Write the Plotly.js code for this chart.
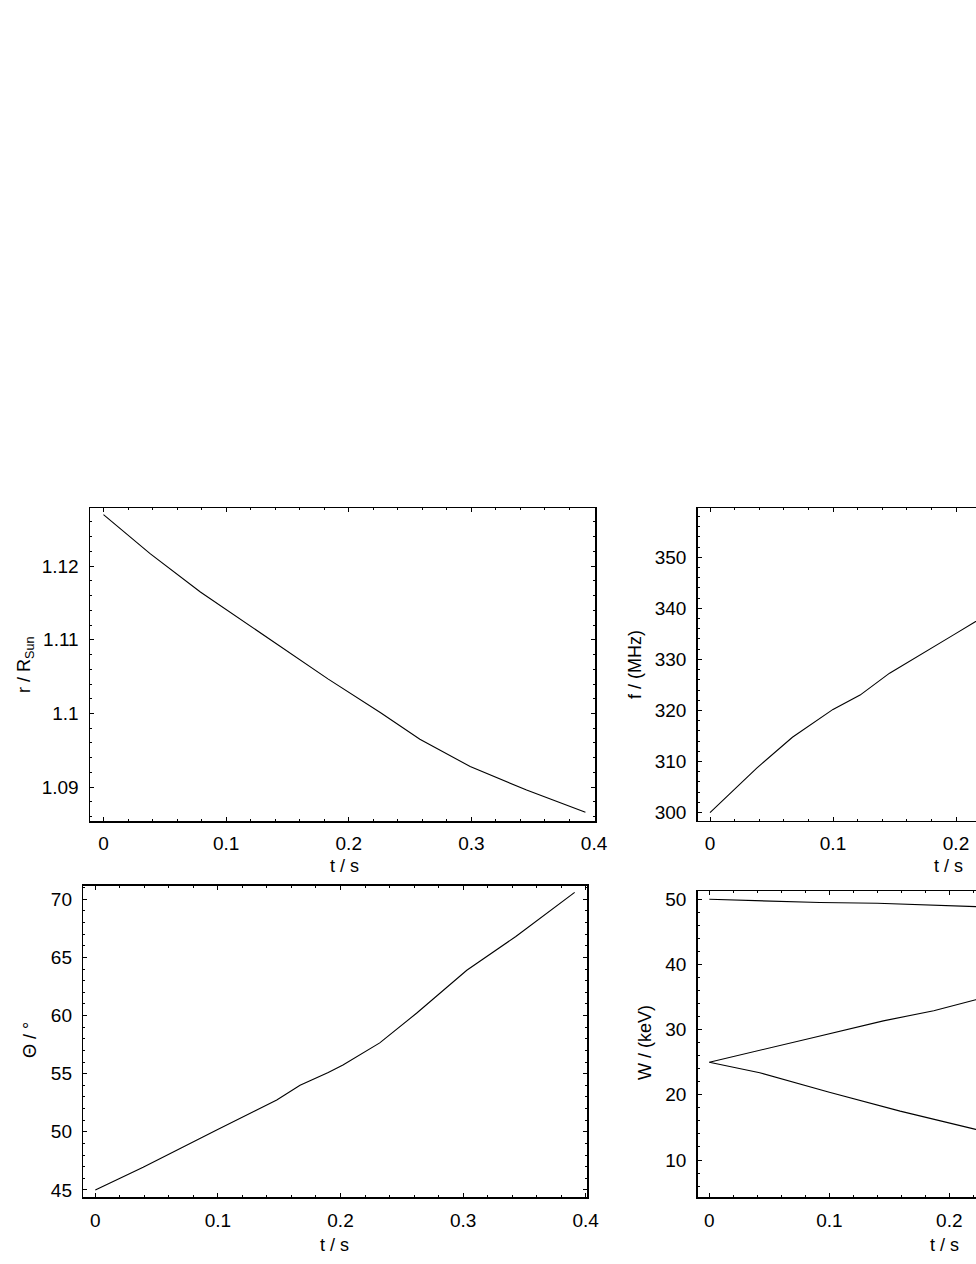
<!DOCTYPE html>
<html>
<head>
<meta charset="utf-8">
<script src="https://cdn.plot.ly/plotly-3.0.1.min.js"></script>
<style>
  html, body { margin: 0; padding: 0; background: #fff; overflow: hidden; }
  #chart { width: 1300px; height: 1264px; }
</style>
</head>
<body>
<div id="chart"></div>
<script>
// ---- data ----
const tR = [0, 0.038, 0.079, 0.122, 0.183, 0.226, 0.258, 0.299, 0.345, 0.393];
const rValues = [1.127, 1.1217, 1.1165, 1.1116, 1.1047, 1.1001, 1.0965, 1.0928, 1.0896, 1.0866];

const tF = [0, 0.038, 0.067, 0.1, 0.122, 0.146, 0.198, 0.216, 0.25, 0.3, 0.35, 0.393];
const fValues = [300, 308.7, 314.75, 320.2, 323, 327.3, 334.8, 337.4, 341.5, 348, 353.5, 358.3];

const tTheta = [0, 0.039, 0.099, 0.148, 0.167, 0.19, 0.202, 0.232, 0.262, 0.303, 0.343, 0.391];
const thetaValues = [45, 46.95, 50.16, 52.74, 54.0, 55.1, 55.75, 57.65, 60.2, 63.9, 66.8, 70.6];

const tWTop = [0, 0.042, 0.092, 0.14, 0.173, 0.222, 0.3, 0.393];
const wTop = [50, 49.8, 49.5, 49.4, 49.2, 48.9, 48.4, 47.8];
const tWMid = [0, 0.039, 0.087, 0.145, 0.187, 0.222, 0.3, 0.393];
const wMid = [25, 26.75, 28.8, 31.35, 32.9, 34.6, 38.2, 42.4];
const tWLow = [0, 0.042, 0.1, 0.159, 0.222, 0.3, 0.393];
const wLow = [25, 23.4, 20.4, 17.5, 14.7, 11.0, 5.8];

// tick labels
const tTicksFull = [0, 0.1, 0.2, 0.3, 0.4];
const tTicksVisible = [0, 0.1, 0.2];   // right-hand panels are cut by the picture edge

const xTitle = "t / s";
const yTitles = ["r / R<sub>Sun</sub>", "f / (MHz)", "Θ / °", "W / (keV)"];

// ---- layout helpers ----
const W = 1300, H = 1264;
const FONT = "'Liberation Sans', Arial, sans-serif";
const px = v => v / W;
const py = v => (H - v) / H;

function xAxis(anchor, left, right, range, tickvals) {
  return {
    anchor: anchor, domain: [px(left), px(right)], range: range,
    showline: true, linecolor: '#000', linewidth: 1.5, mirror: 'allticks',
    ticks: 'inside', ticklen: 4, tickwidth: 1, tickcolor: '#000',
    tickmode: 'array', tickvals: tickvals,
    minor: { tickmode: 'linear', tick0: 0, dtick: 0.02, ticks: 'inside', ticklen: 2, tickcolor: '#000', tickwidth: 1, showgrid: false },
    showgrid: false, zeroline: false,
    tickfont: { family: FONT, size: 19, color: '#000' },
    ticklabelstandoff: 5
  };
}
function yAxis(anchor, top, bottom, range, dtick, mdtick) {
  return {
    anchor: anchor, domain: [py(bottom), py(top)], range: range,
    showline: true, linecolor: '#000', linewidth: 1.5, mirror: 'allticks',
    ticks: 'inside', ticklen: 4, tickwidth: 1, tickcolor: '#000',
    dtick: dtick, tick0: 0,
    minor: { dtick: mdtick, ticks: 'inside', ticklen: 2, tickcolor: '#000', tickwidth: 1, showgrid: false },
    showgrid: false, zeroline: false,
    tickfont: { family: FONT, size: 19, color: '#000' },
    ticklabelstandoff: 6
  };
}

const line = { color: '#000', width: 1.1 };
const traces = [
  { x: tR, y: rValues, xaxis: 'x', yaxis: 'y', mode: 'lines', line: line },
  { x: tF, y: fValues, xaxis: 'x2', yaxis: 'y2', mode: 'lines', line: line },
  { x: tTheta, y: thetaValues, xaxis: 'x3', yaxis: 'y3', mode: 'lines', line: line },
  { x: tWTop, y: wTop, xaxis: 'x4', yaxis: 'y4', mode: 'lines', line: line },
  { x: tWMid, y: wMid, xaxis: 'x4', yaxis: 'y4', mode: 'lines', line: line },
  { x: tWLow, y: wLow, xaxis: 'x4', yaxis: 'y4', mode: 'lines', line: line }
];

function ann(text, x, y, angle) {
  return { text: text, x: px(x), y: py(y), xref: 'paper', yref: 'paper',
           showarrow: false, textangle: angle || 0, xanchor: 'center', yanchor: 'middle',
           font: { family: FONT, size: 18, color: '#000' } };
}

const layout = {
  width: W, height: H,
  margin: { l: 0, r: 0, t: 0, b: 0 },
  paper_bgcolor: '#fff', plot_bgcolor: '#fff',
  showlegend: false,
  xaxis:  xAxis('y', 90, 595, [-0.011, 0.4008], tTicksFull),
  yaxis:  yAxis('x', 508, 821, [1.0854, 1.1279], 0.01, 0.002),
  xaxis2: xAxis('y2', 697.7, 1203, [-0.01, 0.4008], tTicksVisible),
  yaxis2: yAxis('x2', 508, 820.7, [298.4, 359.65], 10, 2),
  xaxis3: xAxis('y3', 83.3, 587.3, [-0.0098, 0.4013], tTicksFull),
  yaxis3: yAxis('x3', 885.7, 1197.3, [44.37, 71.17], 5, 1),
  xaxis4: xAxis('y4', 697.7, 1190.5, [-0.0097, 0.401], tTicksVisible),
  yaxis4: yAxis('x4', 891, 1197.3, [4.28, 51.27], 10, 2),
  annotations: [
    ann(xTitle, 344, 866), ann(xTitle, 948, 866),
    ann(xTitle, 335, 1245), ann(xTitle, 944, 1245),
    ann(yTitles[0], 25, 665, -90), ann(yTitles[1], 635, 665, -90),
    ann(yTitles[2], 30, 1040, -90), ann(yTitles[3], 645, 1043, -90)
  ]
};

Plotly.newPlot('chart', traces, layout, { staticPlot: true, displayModeBar: false });
</script>
</body>
</html>
